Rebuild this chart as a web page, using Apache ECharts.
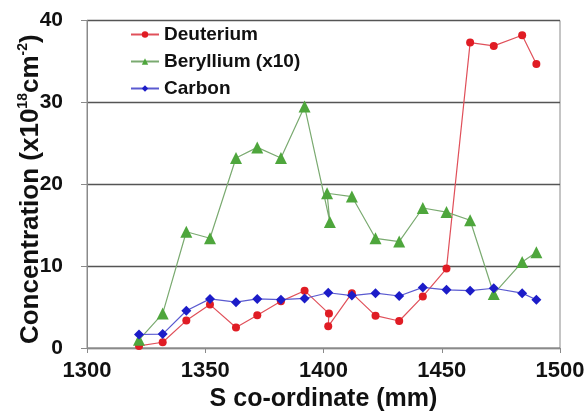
<!DOCTYPE html>
<html>
<head>
<meta charset="utf-8">
<script src="https://cdn.jsdelivr.net/npm/echarts@6/dist/echarts.min.js"></script>
<style>
html,body{margin:0;padding:0;background:#fff;}
#chart{width:585px;height:411px;}
</style>
</head>
<body>
<div id="chart"></div>
<script>
// Data
var seriesNames = ['Deuterium', 'Beryllium (x10)', 'Carbon'];
var deutX = [1322,1332,1342,1352,1363,1372,1382,1392,1402.3,1402,1412,1422,1432,1442,1452,1462,1472,1484,1490];
var deutY = [0.25,0.7,3.35,5.3,2.5,4.0,5.7,7.0,4.2,2.65,6.7,3.95,3.3,6.3,9.7,37.3,36.9,38.2,34.7];
var beX = [1322,1332,1342,1352,1363,1372,1382,1392,1402.7,1401.5,1412,1422,1432,1442,1452,1462,1472,1484,1490];
var beY = [1.0,4.2,14.2,13.4,23.2,24.5,23.2,29.5,15.4,18.9,18.5,13.4,13.0,17.1,16.6,15.6,6.6,10.5,11.7];
var carbX = [1322,1332,1342,1352,1363,1372,1382,1392,1402,1412,1422,1432,1442,1452,1462,1472,1484,1490];
var carbY = [1.65,1.7,4.55,6.0,5.6,6.0,5.9,6.05,6.75,6.4,6.7,6.35,7.4,7.1,7.0,7.3,6.7,5.9];
var xTicks = [1300, 1350, 1400, 1450, 1500];
var yTicks = [0, 10, 20, 30, 40];

function pairs(xs, ys) { return xs.map(function (x, i) { return [x, ys[i]]; }); }

var FONT = '"Liberation Sans", Arial, sans-serif';
var chart = echarts.init(document.getElementById('chart'), null, {renderer: 'canvas'});
chart.setOption({
  animation: false,
  backgroundColor: '#ffffff',
  textStyle: {fontFamily: FONT},
  grid: {left: 87, right: 25, top: 20.5, bottom: 63, containLabel: false,
         outerBoundsMode: 'none',
         show: true, borderColor: '#8a8a8a', borderWidth: 1},
  legend: {
    orient: 'vertical', left: 130, top: 25, itemGap: 8, padding: 0,
    itemWidth: 28, itemHeight: 8,
    textStyle: {fontFamily: FONT, fontSize: 19, fontWeight: 'bold', color: '#111'},
    data: seriesNames
  },
  xAxis: {
    type: 'value', min: xTicks[0], max: xTicks[xTicks.length - 1], interval: 50,
    name: 'S co-ordinate (mm)', nameLocation: 'middle', nameGap: 39, nameMoveOverlap: false,
    nameTextStyle: {fontFamily: FONT, fontSize: 25, fontWeight: 'bold', color: '#111'},
    axisLine: {show: true, lineStyle: {color: '#8a8a8a', width: 1}},
    axisTick: {show: true, inside: false, length: 5, lineStyle: {color: '#8a8a8a'}},
    axisLabel: {fontFamily: FONT, fontSize: 22, fontWeight: 'bold', color: '#111', margin: 12,
                formatter: function (v) { return String(v); }},
    splitLine: {show: false}
  },
  yAxis: {
    type: 'value', min: yTicks[0], max: yTicks[yTicks.length - 1], interval: 10,
    name: '{m|Concentration (x10}{s|18}{m|cm}{s|-2}{m|)}',
    nameLocation: 'middle', nameRotate: 90, nameGap: 41, nameMoveOverlap: false,
    nameTextStyle: {
      fontFamily: FONT, fontSize: 26, fontWeight: 'bold', color: '#111',
      padding: [0, 10, 0, 0],
      rich: {
        m: {fontFamily: FONT, fontSize: 26, fontWeight: 'bold', color: '#111', lineHeight: 30},
        s: {fontFamily: FONT, fontSize: 14, fontWeight: 'bold', color: '#111', lineHeight: 15, verticalAlign: 'top'}
      }
    },
    axisLine: {show: true, lineStyle: {color: '#8a8a8a', width: 1}},
    axisTick: {show: true, inside: false, length: 6, lineStyle: {color: '#8a8a8a'}},
    axisLabel: {fontFamily: FONT, fontSize: 21, fontWeight: 'bold', color: '#111', margin: 24},
    splitLine: {show: true, lineStyle: {color: '#555555', width: 1.3}}
  },
  series: [
    {
      name: seriesNames[0], type: 'line', data: pairs(deutX, deutY),
      symbol: 'circle', symbolSize: 8,
      itemStyle: {color: '#e01c24'},
      lineStyle: {color: '#e0505a', width: 1.2}
    },
    {
      name: seriesNames[1], type: 'line', data: pairs(beX, beY),
      symbol: 'triangle', symbolSize: 12,
      itemStyle: {color: '#4ea63c'},
      lineStyle: {color: '#7aaa70', width: 1.2}
    },
    {
      name: seriesNames[2], type: 'line', data: pairs(carbX, carbY),
      symbol: 'diamond', symbolSize: 10,
      itemStyle: {color: '#1c1cc8'},
      lineStyle: {color: '#5a5ad0', width: 1.2}
    }
  ]
});
</script>
</body>
</html>
